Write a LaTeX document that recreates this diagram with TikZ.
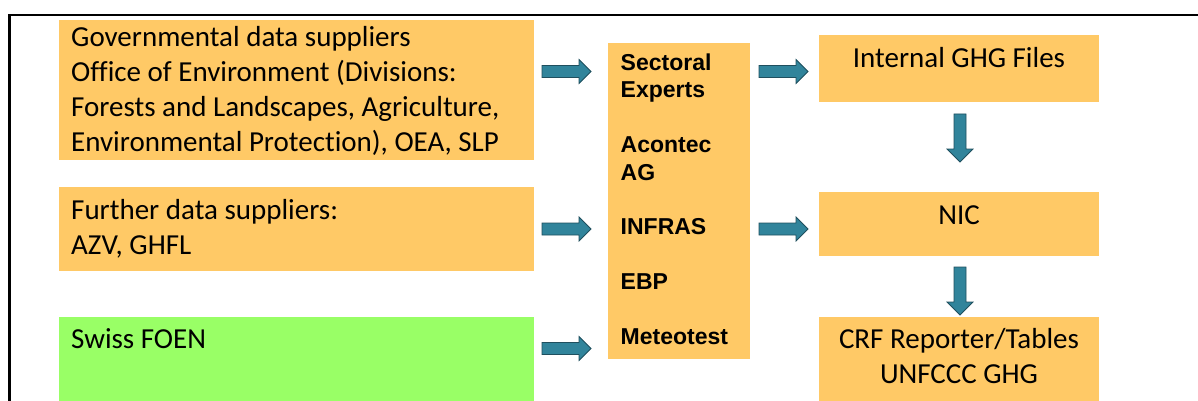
\documentclass[tikz,border=0pt]{standalone}
\usepackage{fontspec}
\setmainfont{Carlito}[Ligatures=NoCommon]
\newfontfamily\arialfont{Liberation Sans}
\definecolor{boxor}{HTML}{FFC966}
\definecolor{boxgr}{HTML}{99FF66}
\definecolor{arrfill}{HTML}{31849B}
\definecolor{arrline}{HTML}{1F4F5E}
\tikzset{
  box/.style={fill=boxor, draw=none, anchor=north west, inner sep=0pt, outer sep=0pt},
  lbl/.style={anchor=base west, inner sep=0pt, align=left, font=\fontsize{29}{35}\selectfont},
  clbl/.style={anchor=base, inner sep=0pt, align=center, font=\fontsize{29}{35}\selectfont},
  midlbl/.style={anchor=base west, inner sep=0pt, align=left, font=\arialfont\bfseries\fontsize{23}{27.4}\selectfont},
  harr/.pic={\draw[draw=arrline, fill=arrfill, line width=0.8pt] (0,-6) -- (37,-6) -- (37,-12) -- (49,0) -- (37,12) -- (37,6) -- (0,6) -- cycle;},
  varr/.pic={\draw[draw=arrline, fill=arrfill, line width=0.8pt] (-6,0) -- (-6,35) -- (-13,35) -- (0,48) -- (13,35) -- (6,35) -- (6,0) -- cycle;},
}
\begin{document}
\begin{tikzpicture}[x=1pt,y=-1pt]
\useasboundingbox (0,0) rectangle (1198,401);
% frame
\coordinate (fbl) at (9.5,401);
\coordinate (ftl) at (9.5,15);
\coordinate (ftr) at (1198,15);
\draw[line width=2.5pt] (fbl) -- (ftl) -- (ftr);
% left boxes (multi-line labels: base = last line)
\node[box, minimum width=475, minimum height=140] (gov) at (59,20) {};
\node[lbl] (govtext) at (71,151.7) {Governmental data suppliers\\Office of Environment (Divisions:\\Forests and Landscapes, Agriculture,\\Environmental Protection), OEA, SLP};
\node[box, minimum width=475, minimum height=84.5] (fur) at (59,186.5) {};
\node[lbl] (furtext) at (71,254) {Further data suppliers:\\AZV, GHFL};
\node[box, fill=boxgr, minimum width=475, minimum height=84] (foen) at (59,317) {};
\node[lbl] (foentext) at (71,348.3) {Swiss FOEN};
% middle box
\node[box, minimum width=142, minimum height=316] (mid) at (608,43) {};
\node[midlbl] (midtext) at (620.5,344.4) {Sectoral\\Experts\\[27.4pt]Acontec\\AG\\[27.4pt]INFRAS\\[27.4pt]EBP\\[27.4pt]Meteotest};
% right boxes
\node[box, minimum width=280, minimum height=67] (ighg) at (819,35) {};
\node[clbl] (ighgtext) at (959,67.7) {Internal GHG Files};
\node[box, minimum width=280, minimum height=64] (nic) at (819,192) {};
\node[clbl] (nictext) at (959,224) {NIC};
\node[box, minimum width=280, minimum height=84] (crf) at (819,317) {};
\node[clbl] (crftext) at (959,383.3) {CRF Reporter/Tables\\UNFCCC GHG};
% arrows
\pic at (542,71.5) {harr};
\pic at (542,229) {harr};
\pic at (542,348.5) {harr};
\pic at (759,71.5) {harr};
\pic at (759,229) {harr};
\pic at (960,114) {varr};
\pic at (960,267) {varr};
\end{tikzpicture}
\end{document}
